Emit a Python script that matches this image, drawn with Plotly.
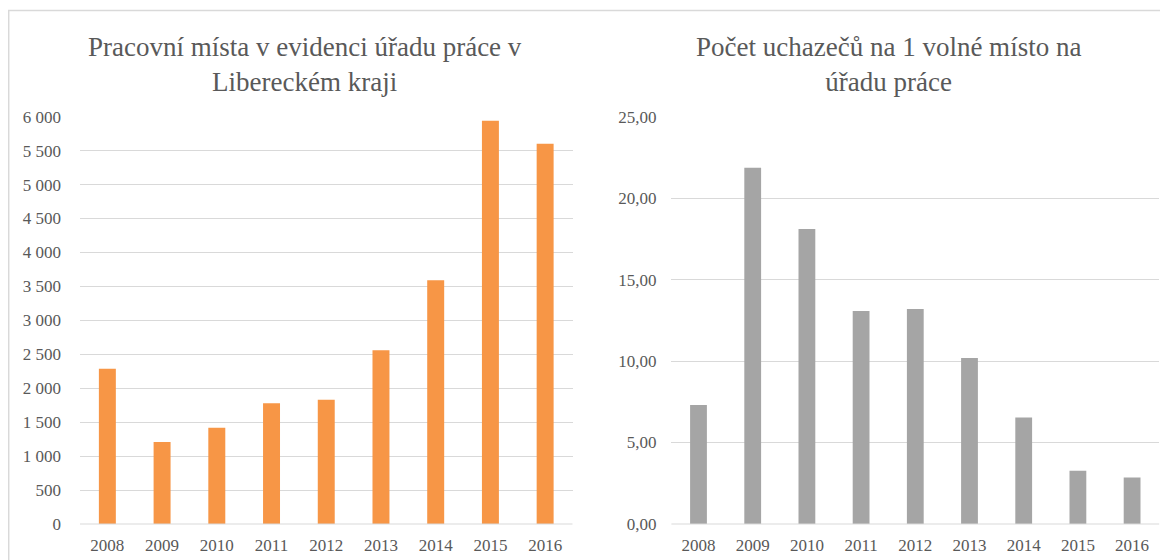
import plotly.graph_objects as go

years = ["2008", "2009", "2010", "2011", "2012", "2013", "2014", "2015", "2016"]
jobs = [2288, 1208, 1419, 1778, 1832, 2559, 3590, 5941, 5602]
applicants_per_job = [7.31, 21.87, 18.11, 13.07, 13.20, 10.19, 6.53, 3.27, 2.86]
left_ticks = [0, 500, 1000, 1500, 2000, 2500, 3000, 3500, 4000, 4500, 5000, 5500, 6000]
right_ticks = [0, 5, 10, 15, 20, 25]

title_left = "Pracovní místa v evidenci úřadu práce v<br>Libereckém kraji"
title_right = "Počet uchazečů na 1 volné místo na<br>úřadu práce"

# page body has an 8px margin, so the figure is 8px smaller than the window
OFF = 8
W, H = 1168 - OFF, 560 - OFF
FONT = "Liberation Serif"
TXT = "#595959"
GRID = "#d9d9d9"


def px(X):
    return (X - OFF) / W


def py(Y):
    return (H - (Y - OFF)) / H


fig = go.Figure()
fig.add_trace(go.Bar(x=years, y=jobs, marker=dict(color="#F79646", line=dict(width=0)),
                     xaxis="x", yaxis="y", showlegend=False))
fig.add_trace(go.Bar(x=years, y=applicants_per_job, marker=dict(color="#A5A5A5", line=dict(width=0)),
                     xaxis="x2", yaxis="y2", showlegend=False))

ydom = [py(524), py(116.7)]
common_x = dict(type="category", showgrid=False, zeroline=False, showline=False, automargin=False,
                ticks="", tickfont=dict(family=FONT, size=17, color=TXT), ticklabelstandoff=9)
common_y = dict(showgrid=True, gridcolor=GRID, gridwidth=1, zeroline=False, showline=False,
                automargin=False, ticks="", tickfont=dict(family=FONT, size=17, color=TXT))

fig.update_layout(
    template="none",
    font=dict(family=FONT, color=TXT),
    width=W, height=H,
    margin=dict(l=0, r=0, t=0, b=0, autoexpand=False),
    paper_bgcolor="white", plot_bgcolor="white",
    separators=", ",
    bargap=0.69,
    xaxis=dict(domain=[px(80), px(572.5)], anchor="y", **common_x),
    yaxis=dict(domain=ydom, anchor="x", range=[0, 6000], tickvals=left_ticks,
               tickformat=",d", ticklabelstandoff=18, **common_y),
    xaxis2=dict(domain=[px(671.4), px(1159.2)], anchor="y2", **common_x),
    yaxis2=dict(domain=ydom, anchor="x2", range=[0, 25], tickvals=right_ticks,
                tickformat=".2f", ticklabelstandoff=14, **common_y),
    shapes=[
        dict(type="rect", xref="paper", yref="paper",
             x0=px(8.7), x1=1.02, y0=-0.03, y1=py(10.5),
             line=dict(color=GRID, width=1.5), fillcolor="rgba(0,0,0,0)", layer="below"),
        dict(type="line", xref="paper", yref="paper",
             x0=px(80), x1=px(572.5), y0=ydom[0], y1=ydom[0], line=dict(color=GRID, width=1)),
        dict(type="line", xref="paper", yref="paper",
             x0=px(671.4), x1=px(1159.2), y0=ydom[0], y1=ydom[0], line=dict(color=GRID, width=1)),
    ],
    annotations=[
        dict(text=title_left, xref="paper", yref="paper", x=px(305), y=py(64),
             xanchor="center", yanchor="middle", showarrow=False,
             font=dict(family=FONT, size=27, color=TXT)),
        dict(text=title_right, xref="paper", yref="paper", x=px(888), y=py(64),
             xanchor="center", yanchor="middle", showarrow=False,
             font=dict(family=FONT, size=27, color=TXT)),
    ],
)

fig.write_html("out.html")
